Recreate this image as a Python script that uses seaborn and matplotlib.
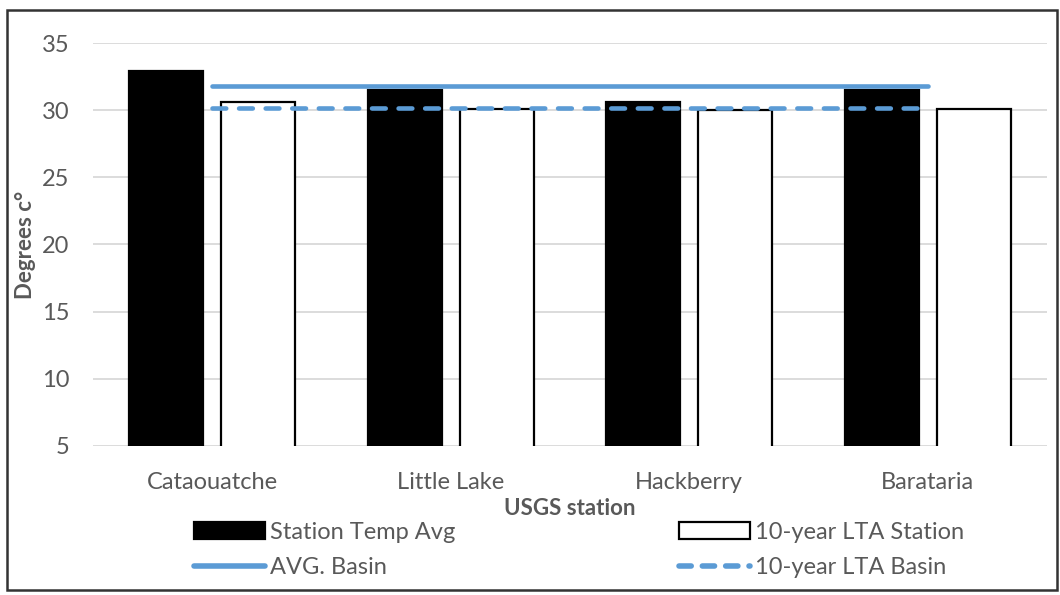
import numpy as np
import pandas as pd
import matplotlib
matplotlib.use("Agg")
import matplotlib.pyplot as plt
import seaborn as sns
from matplotlib.patches import Rectangle, Patch
from matplotlib.lines import Line2D

stations = ["Cataouatche", "Little Lake", "Hackberry", "Barataria"]
station_temp_avg = [32.9, 31.5, 30.6, 31.5]
lta_station = [30.6, 30.1, 30.0, 30.1]
basin_avg = [31.8, 31.8, 31.8, 31.8]
lta_basin = [30.15, 30.15, 30.15, 30.15]
yticks = [5, 10, 15, 20, 25, 30, 35]

sns.set_theme(style="white")
plt.rcParams["font.family"] = ["Lato", "DejaVu Sans"]

GRAY = "#595959"
BLUE = "#5B9BD5"
FS = 17

df = pd.DataFrame({
    "station": stations * 2,
    "value": station_temp_avg + lta_station,
    "series": ["Station Temp Avg"] * 4 + ["10-year LTA Station"] * 4,
})

fig = plt.figure(figsize=(10.6, 5.95), dpi=100)
ax = fig.add_axes([93 / 1060, 1 - 446 / 595, 954 / 1060, 403 / 595])

sns.barplot(data=df, x="station", y="value", hue="series", order=stations,
            hue_order=["Station Temp Avg", "10-year LTA Station"],
            palette=["black", "white"], edgecolor="black", linewidth=1.6,
            width=0.772, gap=0.2, ax=ax, legend=False, errorbar=None)

xs = np.arange(len(stations))
ax.plot(xs, basin_avg, color=BLUE, lw=3.3, solid_capstyle="round", zorder=4)
ax.plot(xs, lta_basin, color=BLUE, lw=3.3, dashes=(3.0, 2.8),
        dash_capstyle="round", zorder=4)

ax.set_ylim(5, 35)
ax.set_xlim(-0.5, 3.5)
ax.set_yticks(yticks)
ax.yaxis.grid(True, color="#D9D9D9", lw=1.3)
ax.set_axisbelow(True)
for s in ax.spines.values():
    s.set_visible(False)
ax.tick_params(axis="both", length=0, labelsize=FS, labelcolor=GRAY)
ax.tick_params(axis="x", pad=18.5)
ax.tick_params(axis="y", pad=17)
ax.set_xlabel("USGS station", fontsize=16, fontweight="bold", color=GRAY, labelpad=4)
ax.set_ylabel("Degrees c°", fontsize=16, fontweight="bold", color=GRAY, labelpad=4)

handles = [
    Patch(facecolor="black", edgecolor="black", lw=1.6),
    Line2D([], [], color=BLUE, lw=4, solid_capstyle="round"),
    Patch(facecolor="white", edgecolor="black", lw=1.6),
    Line2D([], [], color=BLUE, lw=4, dashes=(2.2, 2.0), dash_capstyle="round"),
]
labels = ["Station Temp Avg", "AVG. Basin", "10-year LTA Station", "10-year LTA Basin"]
leg = fig.legend(handles, labels, ncol=2, loc="upper left",
                 bbox_to_anchor=(194 / 1060, 1 - 522 / 595),
                 frameon=False, fontsize=FS, handlelength=3.0, handleheight=0.75,
                 handletextpad=0.2, columnspacing=9.5, labelspacing=0.6,
                 borderpad=0, borderaxespad=0)
for t in leg.get_texts():
    t.set_color(GRAY)

fig.patches.append(Rectangle((7 / 1060, 5 / 595), 1050 / 1060, 580 / 595,
                             transform=fig.transFigure, fill=False,
                             edgecolor="#333333", lw=1.8))

fig.savefig("out.png", dpi=100)
